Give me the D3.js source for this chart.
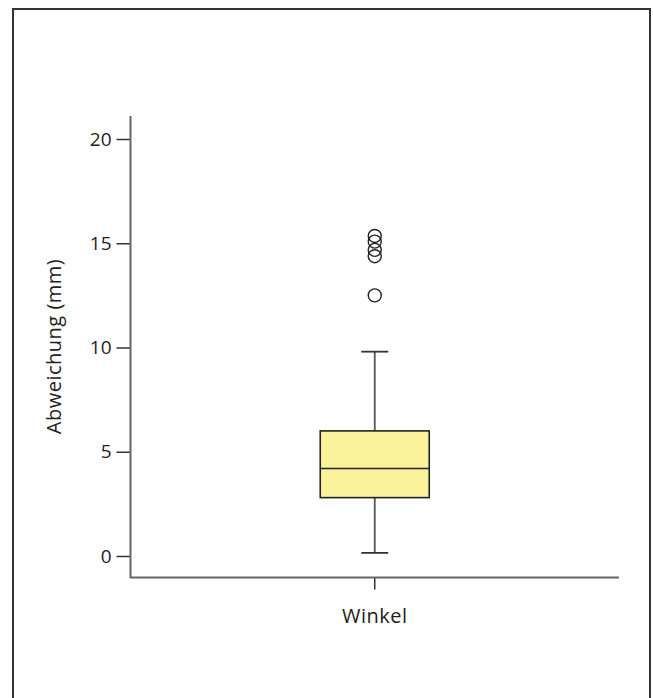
<!DOCTYPE html>
<html><head><meta charset="utf-8">
<script src="https://cdn.jsdelivr.net/npm/d3@7"></script>
<style>body{margin:0;background:#fff}svg{display:block}</style>
</head><body>
<script>
const categories = ["Winkel"];
const boxStats = [{q1: 2.8, median: 4.2, q3: 6.0, whiskerLow: 0.15, whiskerHigh: 9.8}];
const outliers = [[15.35, 15.08, 14.68, 14.38, 12.5]];
const yTicks = [0, 5, 10, 15, 20];

const W = 653, H = 698;
const svg = d3.select("body").append("svg").attr("width", W).attr("height", H);
const font = "'Open Sans', Lato, sans-serif";

// frame
svg.append("path").attr("d", `M13,${H} V9 H650 V${H}`).attr("fill","none").attr("stroke","#333").attr("stroke-width",2);

const y = d3.scaleLinear().domain([0, 20]).range([556, 139]);
const x = d3.scaleBand().domain(categories).range([130.5, 619]);

// y axis
const yAxis = d3.axisLeft(y).tickValues(yTicks).tickSize(14).tickPadding(5);
const gy = svg.append("g").attr("transform","translate(130.5,0)").call(yAxis);
gy.select(".domain").remove();
gy.selectAll(".tick line").attr("stroke","#333").attr("stroke-width",1.5);
gy.selectAll(".tick text").attr("font-family",font).attr("font-size",19).attr("fill","#222");
svg.append("line").attr("x1",130.5).attr("x2",130.5).attr("y1",116).attr("y2",578).attr("stroke","#666").attr("stroke-width",2);

// x axis
const xAxis = d3.axisBottom(x).tickSize(12).tickPadding(19);
const gx = svg.append("g").attr("transform","translate(0,577.5)").call(xAxis);
gx.select(".domain").remove();
gx.selectAll(".tick line").attr("stroke","#333").attr("stroke-width",1.5);
gx.selectAll(".tick text").attr("font-family",font).attr("font-size",20).attr("letter-spacing","0.5px").attr("fill","#222");
svg.append("line").attr("x1",130).attr("x2",619).attr("y1",577.5).attr("y2",577.5).attr("stroke","#666").attr("stroke-width",2);

// axis title
svg.append("text").attr("transform",`translate(61,${(y(0)+y(20))/2 - 1}) rotate(-90)`)
  .attr("text-anchor","middle").attr("letter-spacing","0.5px")
  .attr("font-family",font).attr("font-size",20).attr("fill","#222").text("Abweichung (mm)");

const boxW = 109, capW = 27;
categories.forEach((c, i) => {
  const s = boxStats[i];
  const cx = x(c) + x.bandwidth()/2;
  const g = svg.append("g");
  g.append("line").attr("x1",cx).attr("x2",cx).attr("y1",y(s.whiskerHigh)).attr("y2",y(s.q3)).attr("stroke","#555").attr("stroke-width",1.8);
  g.append("line").attr("x1",cx).attr("x2",cx).attr("y1",y(s.q1)).attr("y2",y(s.whiskerLow)).attr("stroke","#555").attr("stroke-width",1.8);
  [s.whiskerHigh, s.whiskerLow].forEach(v => g.append("line").attr("x1",cx-capW/2).attr("x2",cx+capW/2).attr("y1",y(v)).attr("y2",y(v)).attr("stroke","#333").attr("stroke-width",1.8));
  g.append("rect").attr("x",cx-boxW/2).attr("width",boxW).attr("y",y(s.q3)).attr("height",y(s.q1)-y(s.q3))
    .attr("fill","#fbf39c").attr("stroke","#222").attr("stroke-width",1.6);
  g.append("line").attr("x1",cx-boxW/2).attr("x2",cx+boxW/2).attr("y1",y(s.median)).attr("y2",y(s.median)).attr("stroke","#222").attr("stroke-width",1.6);
  g.selectAll("circle").data(outliers[i]).join("circle").attr("cx",cx).attr("cy",d=>y(d)).attr("r",6.5)
    .attr("fill","none").attr("stroke","#222").attr("stroke-width",1.4);
});
</script>
</body></html>
